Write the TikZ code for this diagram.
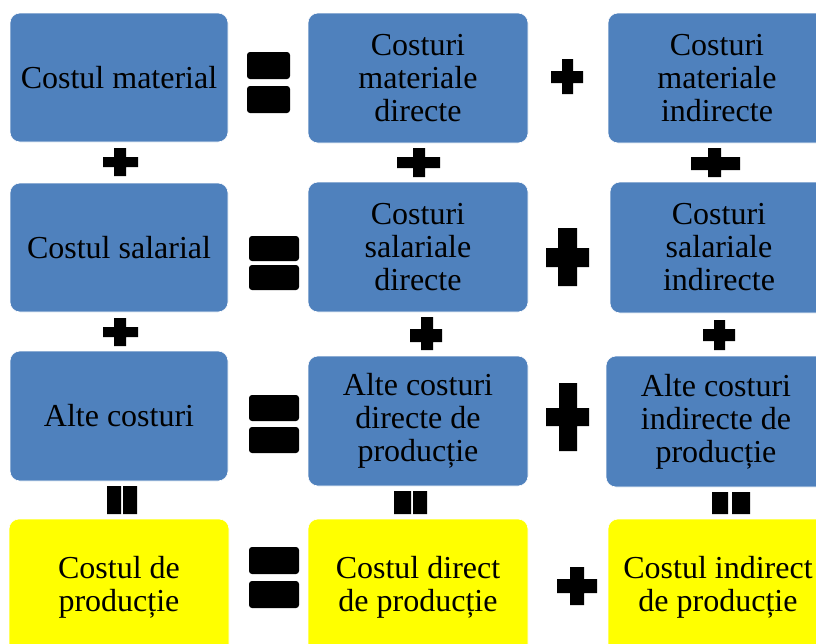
\documentclass[tikz,border=0pt]{standalone}
\usepackage{fontspec}
\setmainfont{Liberation Serif}
\begin{document}
% plus sign: outer box (x1,y1)-(x2,y2), horizontal bar hy1..hy2, vertical bar vx1..vx2
\newcommand\PlusMark[8]{%
  \fill[symb] (#1,#5) rectangle (#3,#6) (#7,#2) rectangle (#8,#4);}
% horizontal equals sign: two rounded bars
\newcommand\EqMark[6]{%
  \fill[symb,rounded corners=3pt] (#1,#3) rectangle (#2,#4) (#1,#5) rectangle (#2,#6);}
% vertical equals sign: two upright bars
\newcommand\VEqMark[6]{%
  \fill[symb] (#1,#5) rectangle (#2,#6) (#3,#5) rectangle (#4,#6);}
\begin{tikzpicture}[x=1pt,y=-1pt,
  box/.style={rounded corners=10pt, draw=white, line width=0.6pt, inner sep=0pt,
    align=center, font=\fontsize{32}{33}\selectfont},
  bluebox/.style={box, fill=costblue},
  yellowbox/.style={box, fill=costyellow},
  symb/.style={fill=black}]
\definecolor{costblue}{HTML}{4F81BD}
\definecolor{costyellow}{HTML}{FFFF00}
\useasboundingbox (0,0) rectangle (816,643);
\clip (0,0) rectangle (816,643);

% row 1: material costs
\node[bluebox, minimum width=218pt, minimum height=129pt] (cm)  at (119,77.5) {Costul material};
\node[bluebox, minimum width=220pt, minimum height=130pt] (cmd) at (418,78) {Costuri\\materiale\\directe};
\node[bluebox, minimum width=218pt, minimum height=130pt] (cmi) at (717,78) {Costuri\\materiale\\indirecte};

% row 2: salary costs
\node[bluebox, minimum width=218pt, minimum height=129pt] (cs)  at (119,247.5) {Costul salarial};
\node[bluebox, minimum width=220pt, minimum height=130pt] (csd) at (418,247) {Costuri\\salariale\\directe};
\node[bluebox, minimum width=218pt, minimum height=131pt] (csi) at (719,247.5) {Costuri\\salariale\\indirecte};

% row 3: other costs
\node[bluebox, minimum width=218pt, minimum height=130pt] (ac)  at (119,416) {Alte costuri};
\node[bluebox, minimum width=220pt, minimum height=130pt] (acd) at (418,421) {Alte costuri\\directe de\\producție};
\node[bluebox, minimum width=220pt, minimum height=131pt] (aci) at (716,421.5) {Alte costuri\\indirecte de\\producție};

% row 4: production cost totals (run past the lower edge)
\node[yellowbox, minimum width=220pt, minimum height=136pt] (cp)  at (119,587) {Costul de\\producție};
\node[yellowbox, minimum width=220pt, minimum height=136pt] (cpd) at (418,587) {Costul direct\\de producție};
\node[yellowbox, minimum width=220pt, minimum height=136pt] (cpi) at (718,587) {Costul indirect\\de producție};

% equals signs between columns
\EqMark{247}{290}{52}{79}{86}{113}
\EqMark{249}{299}{236}{261}{265}{290}
\EqMark{249}{299}{395}{421}{427}{453}
\EqMark{249}{299}{547}{574}{581}{608}

% plus signs between the direct and indirect columns
\PlusMark{551}{59}{583}{94}{71}{83}{562}{573}
\PlusMark{546}{228}{589}{286}{248}{267}{558}{577}
\PlusMark{546}{383}{589}{451}{408}{426}{559}{577}
\PlusMark{557}{567}{597}{605}{579}{593}{570}{584}

% plus signs between rows
\PlusMark{103}{148}{138}{176}{157}{167}{114}{126}
\PlusMark{397}{148}{440}{177}{157}{168}{413}{425}
\PlusMark{691}{148}{740}{177}{157}{170}{708}{721}
\PlusMark{103}{318}{138}{346}{327}{337}{114}{126}
\PlusMark{410}{317}{442}{350}{329}{342}{421}{433}
\PlusMark{703}{320}{735}{350}{329}{341}{714}{725}

% vertical equals signs above the totals
\VEqMark{107}{121}{123}{137}{486}{514}
\VEqMark{394}{411}{413}{427}{491}{514}
\VEqMark{712}{728}{732}{750}{492}{514}
\end{tikzpicture}
\end{document}
